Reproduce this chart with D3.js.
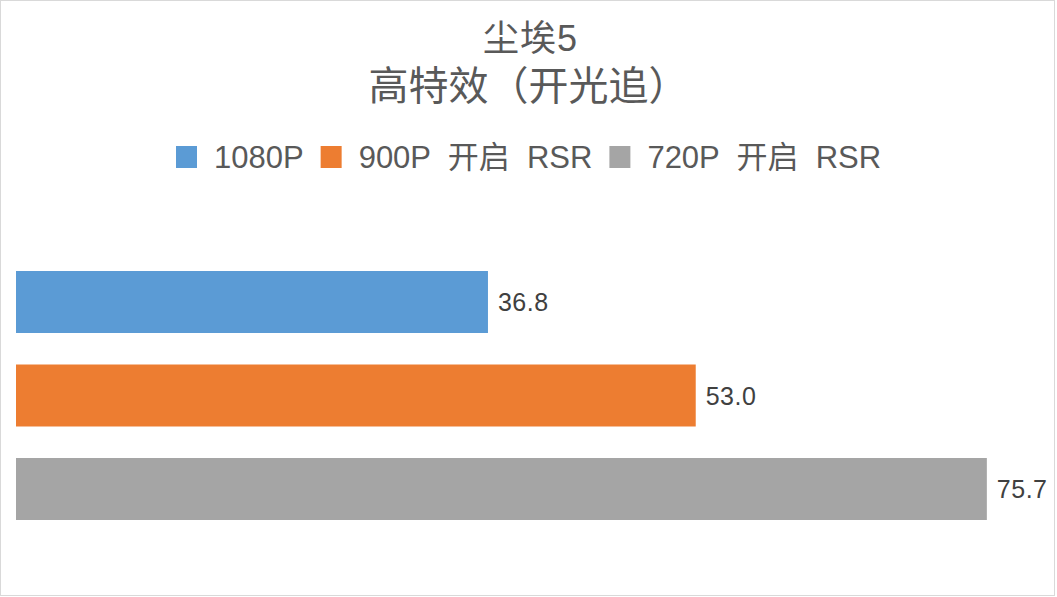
<!DOCTYPE html>
<html>
<head>
<meta charset="utf-8">
<script src="https://cdn.jsdelivr.net/npm/d3@7"></script>
<style>
  body { margin: 0; background: #fff; }
  svg { display: block; }
</style>
</head>
<body>
<svg id="chart"></svg>
<script>
var w = 1057;
var h = 597;

// chart data
var titleLines = ["尘埃5", "高特效（开光追）"];
var seriesNames = ["1080P", "900P 开启 RSR", "720P 开启 RSR"];
var seriesValues = [36.8, 53.0, 75.7];
var seriesColors = ["#5B9BD5", "#ED7D31", "#A5A5A5"];

var latin = "'Liberation Sans', Arial, 'Noto Sans CJK SC', sans-serif";

var svg = d3.select("#chart")
    .attr("width", w)
    .attr("height", h);

svg.append("rect")
    .attr("x", 0.5)
    .attr("y", 0.5)
    .attr("width", w - 3)
    .attr("height", h - 2)
    .style("fill", "#fff")
    .style("stroke", "#D9D9D9");

// titles
svg.append("text")
    .attr("x", w / 2 + 2)
    .attr("y", 51)
    .attr("text-anchor", "middle")
    .style("font-family", latin)
    .style("font-size", "36px")
    .style("letter-spacing", "1px")
    .style("fill", "#595959")
    .text(titleLines[0]);

svg.append("text")
    .attr("x", w / 2)
    .attr("y", 100)
    .attr("text-anchor", "middle")
    .style("font-family", latin)
    .style("font-size", "40px")
    .style("fill", "#595959")
    .text(titleLines[1]);

// legend
var legend = svg.append("g");
var items = legend.selectAll("g")
    .data(seriesNames)
    .enter().append("g");

items.append("rect")
    .attr("width", 21)
    .attr("height", 22)
    .attr("y", 146)
    .style("fill", (d, i) => seriesColors[i]);

items.append("text")
    .attr("x", 38)
    .attr("y", 168)
    .style("font-family", latin)
    .style("font-size", "31px")
    .style("fill", "#595959")
    .style("white-space", "pre")
    .text(d => d.replace(/ /g, "  "));

var xpos = 0;
items.each(function () {
    var tw = d3.select(this).select("text").node().getComputedTextLength();
    d3.select(this).attr("transform", "translate(" + xpos + ",0)");
    xpos += 38 + tw + 17;
});
legend.attr("transform", "translate(" + Math.round((w - (xpos - 17)) / 2) + ",0)");

// bars
var x = d3.scaleLinear()
    .domain([0, 80])
    .range([16, 1042]);

var y = d3.scaleBand()
    .domain(seriesNames)
    .range([239.5, 551.5])
    .padding(0.337);

svg.selectAll(".bar")
    .data(seriesValues)
    .enter().append("rect")
    .attr("class", "bar")
    .attr("x", x(0))
    .attr("y", (d, i) => y(seriesNames[i]))
    .attr("width", d => x(d) - x(0))
    .attr("height", y.bandwidth())
    .style("fill", (d, i) => seriesColors[i]);

svg.selectAll(".label")
    .data(seriesValues)
    .enter().append("text")
    .attr("class", "label")
    .attr("x", d => x(d) + 10)
    .attr("y", (d, i) => y(seriesNames[i]) + y.bandwidth() / 2)
    .attr("dy", "0.36em")
    .style("font-family", latin)
    .style("font-size", "25px")
    .style("letter-spacing", "0.5px")
    .style("fill", "#404040")
    .text(d => d3.format(".1f")(d));
</script>
</body>
</html>
